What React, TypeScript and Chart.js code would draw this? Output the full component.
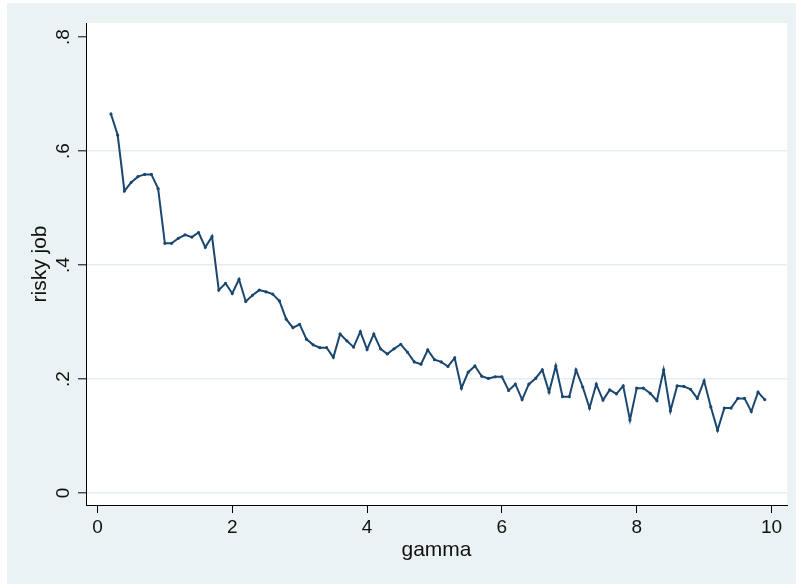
import React, { useEffect, useRef } from "react";
import { Chart, registerables } from "chart.js";

Chart.register(...registerables);

const gamma = [
  0.2, 0.3, 0.4, 0.5, 0.6, 0.7, 0.8, 0.9, 1.0, 1.1,
  1.2, 1.3, 1.4, 1.5, 1.6, 1.7, 1.8, 1.9, 2.0, 2.1,
  2.2, 2.3, 2.4, 2.5, 2.6, 2.7, 2.8, 2.9, 3.0, 3.1,
  3.2, 3.3, 3.4, 3.5, 3.6, 3.7, 3.8, 3.9, 4.0, 4.1,
  4.2, 4.3, 4.4, 4.5, 4.6, 4.7, 4.8, 4.9, 5.0, 5.1,
  5.2, 5.3, 5.4, 5.5, 5.6, 5.7, 5.8, 5.9, 6.0, 6.1,
  6.2, 6.3, 6.4, 6.5, 6.6, 6.7, 6.8, 6.9, 7.0, 7.1,
  7.2, 7.3, 7.4, 7.5, 7.6, 7.7, 7.8, 7.9, 8.0, 8.1,
  8.2, 8.3, 8.4, 8.5, 8.6, 8.7, 8.8, 8.9, 9.0, 9.1,
  9.2, 9.3, 9.4, 9.5, 9.6, 9.7, 9.8, 9.9,
];

const riskyJob = [
  0.665, 0.628, 0.530, 0.545, 0.555, 0.559, 0.559, 0.534, 0.438, 0.438,
  0.447, 0.453, 0.449, 0.457, 0.431, 0.450, 0.356, 0.368, 0.350, 0.375,
  0.336, 0.347, 0.356, 0.353, 0.349, 0.337, 0.305, 0.290, 0.296, 0.270,
  0.260, 0.255, 0.255, 0.238, 0.279, 0.267, 0.256, 0.283, 0.252, 0.279,
  0.253, 0.244, 0.253, 0.261, 0.247, 0.230, 0.226, 0.251, 0.234, 0.230,
  0.222, 0.237, 0.184, 0.212, 0.223, 0.205, 0.201, 0.204, 0.204, 0.180,
  0.191, 0.164, 0.191, 0.201, 0.216, 0.177, 0.223, 0.169, 0.169, 0.216,
  0.186, 0.149, 0.191, 0.163, 0.181, 0.174, 0.188, 0.128, 0.184, 0.184,
  0.175, 0.162, 0.216, 0.144, 0.188, 0.187, 0.182, 0.166, 0.197, 0.151,
  0.110, 0.149, 0.149, 0.166, 0.166, 0.143, 0.177, 0.164,
];

const xTicks = [0, 2, 4, 6, 8, 10];
const yTicks = [0, 0.2, 0.4, 0.6, 0.8];
const yTickLabels = ["0", ".2", ".4", ".6", ".8"];

const FONT = '"Liberation Sans", Arial, Helvetica, sans-serif';
const BG = "#EAF2F3";
const GRID = "#E4EDEF";
const LINE = "#1a476f";

export default function App() {
  const ref = useRef<HTMLCanvasElement | null>(null);

  useEffect(() => {
    const canvas = ref.current;
    if (!canvas) return;

    const bgPlugin = {
      id: "stataBg",
      beforeDraw(chart: any) {
        const { ctx, chartArea: a } = chart;
        ctx.save();
        ctx.fillStyle = "#ffffff";
        ctx.fillRect(0, 0, chart.width, chart.height);
        ctx.fillStyle = BG;
        ctx.fillRect(7, 3, chart.width - 7, chart.height - 3);
        ctx.fillStyle = "#ffffff";
        ctx.fillRect(a.left, a.top, a.right - a.left, a.bottom - a.top);
        ctx.restore();
      },
      afterDraw(chart: any) {
        const { ctx } = chart;
        const ys = chart.scales.y;
        ctx.save();
        ctx.font = `19px ${FONT}`;
        ctx.fillStyle = "#111";
        ctx.textAlign = "center";
        ctx.textBaseline = "middle";
        ys.ticks.forEach((t: any) => {
          const idx = yTicks.indexOf(t.value);
          const label = idx >= 0 ? yTickLabels[idx] : String(t.value);
          const py = ys.getPixelForValue(t.value);
          ctx.save();
          ctx.translate(ys.right - 22, py);
          ctx.rotate(-Math.PI / 2);
          ctx.fillText(label, 0, 0);
          ctx.restore();
        });
        ctx.restore();
      },
    };

    const chart = new Chart(canvas, {
      type: "line",
      data: {
        datasets: [
          {
            label: "risky job",
            data: gamma.map((g, i) => ({ x: g, y: riskyJob[i] })),
            borderColor: LINE,
            backgroundColor: LINE,
            borderWidth: 2,
            pointRadius: 0.6,
            pointHoverRadius: 0.6,
            tension: 0,
            fill: false,
          },
        ],
      },
      options: {
        responsive: false,
        animation: false,
        layout: { padding: { left: 0, top: 23, right: 9, bottom: 0 } },
        plugins: {
          legend: { display: false },
          tooltip: { enabled: false },
        },
        scales: {
          x: {
            type: "linear",
            min: -0.17,
            max: 10.23,
            afterBuildTicks: (s: any) => {
              s.ticks = xTicks.map((v) => ({ value: v }));
            },
            afterFit: (s: any) => {
              s.height = 79;
            },
            grid: {
              drawOnChartArea: false,
              drawTicks: true,
              tickLength: 8,
              tickColor: "#000",
              tickWidth: 1,
            },
            border: { display: true, color: "#000", width: 1 },
            ticks: {
              color: "#111",
              font: { family: FONT, size: 19 },
              padding: 3,
              maxRotation: 0,
              callback: (v: any) => String(v),
            },
            title: {
              display: true,
              text: "gamma",
              color: "#111",
              font: { family: FONT, size: 21 },
              padding: { top: 0, bottom: 21 },
            },
          },
          y: {
            type: "linear",
            min: -0.021,
            max: 0.8246,
            afterBuildTicks: (s: any) => {
              s.ticks = yTicks.map((v) => ({ value: v }));
            },
            afterFit: (s: any) => {
              s.width = 86;
            },
            grid: {
              drawOnChartArea: true,
              color: (c: any) =>
                c.tick && Math.abs(c.tick.value - 0.8) < 1e-6 ? "rgba(0,0,0,0)" : GRID,
              lineWidth: 1.6,
              drawTicks: true,
              tickLength: 8,
              tickColor: "#000",
              tickWidth: 1,
            },
            border: { display: true, color: "#000", width: 1 },
            ticks: { display: false },
            title: {
              display: true,
              text: "risky job",
              color: "#111",
              font: { family: FONT, size: 21 },
              padding: { top: 28, bottom: 0 },
            },
          },
        },
      },
      plugins: [bgPlugin],
    } as any);

    return () => chart.destroy();
  }, []);

  return (
    <div style={{ position: "fixed", left: 0, top: 0, width: 796, height: 584 }}>
      <canvas ref={ref} width={796} height={584} style={{ display: "block" }} />
    </div>
  );
}
